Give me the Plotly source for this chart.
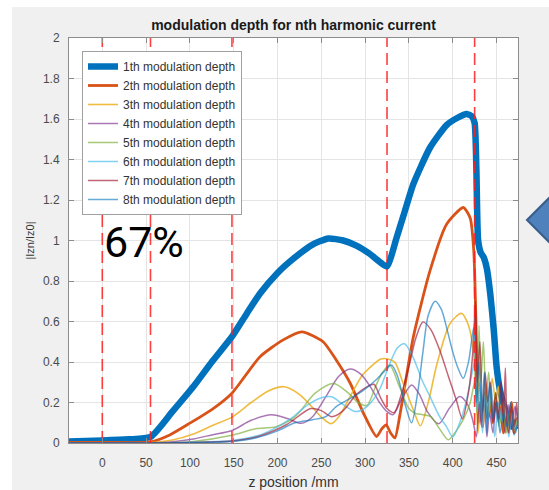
import plotly.graph_objects as go

# ---------------- data ----------------
z1 = [-38, 0, 30, 55, 80, 104, 125, 148, 165, 180, 200, 218, 240, 258, 275, 290, 305, 318, 325, 336,
      345, 355, 374, 393, 405, 416, 422, 425, 427, 429, 432, 435, 439, 443, 447, 450, 454, 458, 462, 465,
      468, 471, 474.5]
v1 = [0.008, 0.012, 0.018, 0.03, 0.155, 0.279, 0.4, 0.525, 0.64, 0.738, 0.84, 0.91, 0.98, 1.01, 1.0, 0.975,
      0.935, 0.89, 0.872, 1.015, 1.14, 1.278, 1.458, 1.57, 1.605, 1.625, 1.612, 1.58, 1.35, 1.0, 0.94, 0.92,
      0.86, 0.73, 0.55, 0.38, 0.26, 0.19, 0.13, 0.1, 0.08, 0.1, 0.07]

z2 = [-38, 0, 55, 77, 100, 125, 148, 180, 206, 228, 252, 267, 283, 298, 313, 319, 324, 329, 334, 340,
      355, 374, 393, 412, 420, 424, 426.5, 428, 429.5, 431, 434, 437, 440, 443, 446, 449, 452, 455, 458, 461,
      464, 467, 470, 473, 474.5]
v2 = [0.003, 0.003, 0.005, 0.04, 0.098, 0.165, 0.246, 0.426, 0.508, 0.549, 0.5, 0.41, 0.295, 0.148, 0.032,
      0.07, 0.09, 0.05, 0.025, 0.146, 0.523, 0.85, 1.08, 1.163, 1.11, 0.95, 0.6, 0.3, 0.1, 0.2, 0.08, 0.25,
      0.12, 0.2, 0.1, 0.22, 0.12, 0.18, 0.05, 0.15, 0.1, 0.2, 0.05, 0.12, 0.08]

z3 = [-38, 55, 80, 104, 125, 148, 170, 190, 208, 225, 240, 252, 261, 270, 283, 296, 306, 318, 326, 334,
      343, 355, 363, 372, 382, 397, 410, 418, 424, 427, 429, 432, 435, 438, 441, 445, 449, 452, 455, 459,
      463, 467, 471, 474.5]
v3 = [0.0, 0.002, 0.015, 0.045, 0.085, 0.128, 0.2, 0.258, 0.278, 0.24, 0.175, 0.12, 0.095, 0.13, 0.23,
      0.33, 0.375, 0.415, 0.415, 0.398, 0.3, 0.164, 0.085, 0.2, 0.39, 0.59, 0.64, 0.58, 0.44, 0.2, 0.05,
      0.25, 0.1, 0.3, 0.15, 0.32, 0.2, 0.28, 0.1, 0.18, 0.05, 0.15, 0.08, 0.12]

z4 = [-38, 55, 80, 104, 125, 148, 170, 193, 212, 227, 240, 255, 270, 283, 295, 306, 317, 325, 332, 342,
      353, 362, 371, 384, 396, 408, 417, 423, 427, 430, 433, 436, 439, 442, 446, 449, 452, 456, 460, 463,
      467, 471, 474.5]
v4 = [0, 0.0, 0.006, 0.02, 0.04, 0.062, 0.112, 0.139, 0.12, 0.097, 0.13, 0.228, 0.33, 0.366, 0.34, 0.277,
      0.197, 0.155, 0.14, 0.22, 0.287, 0.24, 0.155, 0.095, 0.17, 0.23, 0.19, 0.11, 0.03, 0.2, 0.08, 0.22,
      0.03, 0.15, 0.05, 0.2, 0.1, 0.18, 0.05, 0.19, 0.07, 0.18, 0.1]

z5 = [-38, 55, 104, 148, 175, 198, 220, 243, 264, 280, 292, 302, 312, 320, 328, 339, 350, 358, 366, 375,
      385, 395, 404, 412, 420, 425, 428, 430, 432, 435, 438, 441, 445, 449, 453, 457, 461, 465, 470, 474.5]
v5 = [0, 0, 0.008, 0.038, 0.07, 0.08, 0.13, 0.246, 0.294, 0.25, 0.2, 0.185, 0.28, 0.35, 0.385, 0.28, 0.17,
      0.145, 0.14, 0.13, 0.07, 0.016, 0.06, 0.115, 0.2, 0.3, 0.15, 0.58, 0.3, 0.5, 0.2, 0.35, 0.12, 0.25,
      0.08, 0.2, 0.05, 0.15, 0.08, 0.12]

z6 = [-38, 55, 104, 148, 180, 200, 215, 235, 252, 262, 275, 289, 302, 316, 328, 337, 345, 355, 365, 374,
      385, 393, 400, 408, 415, 420, 425, 428, 431, 434, 437, 440, 444, 448, 452, 456, 460, 464, 468, 472,
      474.5]
v6 = [0, 0, 0.004, 0.012, 0.04, 0.08, 0.12, 0.19, 0.226, 0.228, 0.19, 0.155, 0.18, 0.26, 0.39, 0.47, 0.49,
      0.42, 0.31, 0.23, 0.13, 0.08, 0.03, 0.1, 0.2, 0.3, 0.4, 0.15, 0.3, 0.05, 0.25, 0.1, 0.28, 0.03, 0.2,
      0.1, 0.22, 0.03, 0.15, 0.05, 0.15]

z7 = [-38, 55, 104, 148, 180, 210, 238, 250, 262, 275, 290, 303, 310, 318, 325, 333, 342, 350, 358, 366,
      375, 385, 395, 404, 411, 418, 423, 426, 428, 431, 434, 437, 440, 443, 446, 449, 452, 455, 458, 460,
      462, 464, 467, 470, 473, 474.5]
v7 = [0, 0, 0.003, 0.01, 0.035, 0.09, 0.17, 0.16, 0.13, 0.16, 0.24, 0.28, 0.29, 0.22, 0.17, 0.15, 0.25,
      0.377, 0.52, 0.598, 0.56, 0.46, 0.33, 0.213, 0.12, 0.25, 0.45, 0.7, 0.3, 0.5, 0.15, 0.35, 0.2, 0.3,
      0.1, 0.25, 0.12, 0.3, 0.1, 0.37, 0.1, 0.05, 0.18, 0.08, 0.2, 0.1]

z8 = [-38, 55, 104, 148, 175, 200, 220, 240, 255, 267, 283, 298, 312, 321, 330, 337, 345, 353, 360, 366,
      372, 380, 387, 393, 400, 406, 412, 418, 424, 427, 430, 433, 436, 439, 442, 446, 450, 454, 458, 462,
      466, 470, 474.5]
v8 = [0, 0, 0.002, 0.008, 0.025, 0.06, 0.1, 0.115, 0.13, 0.18, 0.22, 0.26, 0.31, 0.35, 0.385, 0.33, 0.2,
      0.1, 0.25, 0.45, 0.63, 0.7, 0.66, 0.57, 0.45, 0.37, 0.32, 0.4, 0.57, 0.2, 0.4, 0.1, 0.35, 0.05, 0.3,
      0.12, 0.2, 0.05, 0.15, 0.08, 0.2, 0.04, 0.1]

series_names = ["1th modulation depth", "2th modulation depth", "3th modulation depth",
                "4th modulation depth", "5th modulation depth", "6th modulation depth",
                "7th modulation depth", "8th modulation depth"]
marker_z = [0, 55, 148, 325, 425]
x_ticks = [0, 50, 100, 150, 200, 250, 300, 350, 400, 450]
title_text = "modulation depth for nth harmonic current"
x_title = "z position /mm"
y_title = "|Izn/Iz0|"
note_text = "67%"

# ---------------- styles ----------------
colors = ["#0072BD", "#D95319", "#EDB120", "#7E2F8E", "#77AC30", "#4DBEEE", "#A2142F", "#0072BD"]
widths = [6.5, 2.8, 1.6, 1.5, 1.5, 1.5, 1.5, 1.5]
opac = [1, 1, 0.85, 0.65, 0.65, 0.7, 0.65, 0.6]
smooth = [0.55, 0.6, 0.8, 0.8, 0.8, 0.8, 0.8, 0.8]

# plot-area pixel geometry
W, H = 549, 490
L, R, T, B = 69, 31, 38, 47
pw, ph = W - L - R, H - T - B


def px_x(px):
    return (px - L) / pw


def px_y(py):
    return (H - B - py) / ph


fig = go.Figure()
zs = [z1, z2, z3, z4, z5, z6, z7, z8]
vs = [v1, v2, v3, v4, v5, v6, v7, v8]
for i in range(8):
    fig.add_trace(go.Scatter(
        x=zs[i], y=vs[i], mode="lines", name=series_names[i],
        line=dict(color=colors[i], width=widths[i], shape="spline", smoothing=smooth[i]),
        opacity=opac[i], hoverinfo="skip"))

for zm in marker_z:
    fig.add_trace(go.Scatter(
        x=[zm, zm], y=[0, 2], mode="lines", showlegend=False, hoverinfo="skip",
        line=dict(color="rgba(255,30,30,0.85)", width=1.6, dash="12px,6px")))

axis_common = dict(
    showgrid=True, gridcolor="#e4e4e4", gridwidth=1,
    showline=True, linecolor="#8c8c8c", linewidth=1, mirror="allticks",
    ticks="inside", ticklen=5, tickcolor="#8c8c8c", tickwidth=1,
    tickfont=dict(family="Liberation Sans, Arial, sans-serif", size=12, color="#4a4a4a"),
    zeroline=False,
)

fig.update_xaxes(range=[-38, 474.5], tickvals=x_ticks, ticklabelstandoff=9,
                 title=dict(text=x_title, standoff=8,
                            font=dict(family="Liberation Sans, Arial, sans-serif", size=14, color="#333333")),
                 **axis_common)
fig.update_yaxes(range=[0, 2], dtick=0.2, tick0=0, ticklabelstandoff=6,
                 title=dict(text=y_title, standoff=6,
                            font=dict(family="Liberation Sans, Arial, sans-serif", size=11, color="#333333")),
                 **axis_common)

fig.update_layout(
    width=W, height=H,
    margin=dict(l=L, r=R, t=T, b=B, autoexpand=False),
    paper_bgcolor="#f0f0f0", plot_bgcolor="#ffffff",
    title=dict(text="<b>" + title_text + "</b>", x=(L + pw / 2) / W, xanchor="center",
               y=1 - 25.5 / H, yanchor="middle",
               font=dict(family="Liberation Sans, Arial, sans-serif", size=14, color="#1a1a1a")),
    legend=dict(x=px_x(82), y=px_y(51), xanchor="left", yanchor="top",
                bgcolor="#ffffff", bordercolor="#a0a0a0", borderwidth=1,
                font=dict(family="Liberation Sans, Arial, sans-serif", size=12, color="#333333"),
                tracegroupgap=0),
    showlegend=True,
    shapes=[
        # white strips outside the grey figure panel
        dict(type="rect", xref="paper", yref="paper", x0=-1, x1=px_x(12), y0=-1, y1=2,
             fillcolor="#ffffff", line=dict(width=0), layer="below"),
        dict(type="rect", xref="paper", yref="paper", x0=-1, x1=2, y0=px_y(7), y1=2,
             fillcolor="#ffffff", line=dict(width=0), layer="below"),
        # arrow marker on the right edge
        dict(type="path", xref="paper", yref="paper",
             path="M {a},{b} L {c},{d} L {e},{b} L {c},{f} Z".format(
                 a=px_x(527), b=px_y(220), c=px_x(550), d=px_y(197), e=px_x(573), f=px_y(243)),
             fillcolor="#4f81bd", line=dict(color="#385d8a", width=2), layer="above"),
    ],
    annotations=[
        dict(text=note_text, xref="paper", yref="paper", x=px_x(102), y=px_y(242),
             xanchor="left", yanchor="middle", showarrow=False,
             font=dict(family="Roboto, sans-serif", size=43, color="#000000")),
    ],
)

fig.write_html("out.html")
